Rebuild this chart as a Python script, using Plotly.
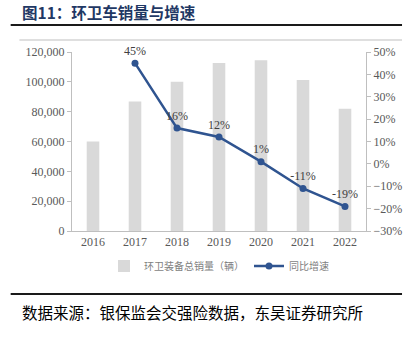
import plotly.graph_objects as go

years = ["2016", "2017", "2018", "2019", "2020", "2021", "2022"]
sales = [60000, 86800, 100000, 112600, 114400, 101200, 81900]
growth_years = ["2017", "2018", "2019", "2020", "2021", "2022"]
growth = [45, 16, 12, 1, -11, -19]
growth_labels = ["45%", "16%", "12%", "1%", "-11%", "-19%"]

W, H = 414, 338
L, R, T, B = 72, 40, 52, 107
pw = W - L - R
ph = H - T - B

def px(x):
    return (x - L) / pw

def py(y):
    return (H - B - y) / ph

serif = "Liberation Serif"
cjk = "Noto Sans CJK SC"

fig = go.Figure()
fig.add_trace(go.Bar(
    x=years, y=sales, name="环卫装备总销量（辆）",
    marker=dict(color="#D9D9D9", line=dict(width=0)),
    width=0.3, yaxis="y",
))
fig.add_trace(go.Scatter(
    x=growth_years, y=growth, name="同比增速", yaxis="y2",
    mode="lines+markers+text", cliponaxis=False,
    line=dict(color="#2F5490", width=2.5),
    marker=dict(color="#2F5490", size=7),
    text=growth_labels, textposition="top center",
    textfont=dict(family=serif, size=12, color="#404040"),
))

fig.update_layout(
    width=W, height=H,
    margin=dict(l=L, r=R, t=T, b=B, pad=0),
    paper_bgcolor="white", plot_bgcolor="white",
    showlegend=True,
    legend=dict(orientation="h", x=0.5, xanchor="center", y=py(266), yanchor="middle",
                font=dict(family=cjk, size=10, color="#7f7f7f"),
                bgcolor="rgba(0,0,0,0)", itemwidth=30, tracegroupgap=0),
    bargap=0.7,
    xaxis=dict(type="category", showline=True, linecolor="#BFBFBF", linewidth=1,
               ticks="", showgrid=False,
               tickfont=dict(family=serif, size=12, color="#595959")),
    yaxis=dict(range=[0, 120000], dtick=20000, tickformat=",", showgrid=False,
               zeroline=False, showline=True, linecolor="#BFBFBF", linewidth=1,
               ticks="outside", ticklen=4, tickcolor="#BFBFBF",
               tickfont=dict(family=serif, size=12, color="#595959")),
    yaxis2=dict(range=[-30, 50], dtick=10, ticksuffix="%", overlaying="y", side="right",
                showgrid=False, zeroline=False, showline=True, linecolor="#BFBFBF",
                linewidth=1, ticks="outside", ticklen=4, tickcolor="#BFBFBF",
                tickfont=dict(family=serif, size=12, color="#595959")),
)

fig.add_shape(type="line", xref="paper", yref="paper", x0=px(9), x1=px(411), y0=py(25), y1=py(25),
              line=dict(color="#1a1a1a", width=2))
fig.add_shape(type="line", xref="paper", yref="paper", x0=px(18), x1=px(411), y0=py(40), y1=py(40),
              line=dict(color="#BFBFBF", width=1))
fig.add_shape(type="line", xref="paper", yref="paper", x0=px(9), x1=px(411), y0=py(294), y1=py(294),
              line=dict(color="#1a1a1a", width=2))

fig.add_annotation(xref="paper", yref="paper", x=px(19), y=py(12), xanchor="left", yanchor="middle",
                   text="<b>图11：环卫车销量与增速</b>", showarrow=False,
                   font=dict(family=cjk, size=15.5, color="#1F3864"))
fig.add_annotation(xref="paper", yref="paper", x=px(19), y=py(312), xanchor="left", yanchor="middle",
                   text="数据来源：银保监会交强险数据，东吴证券研究所", showarrow=False,
                   font=dict(family=cjk, size=15.5, color="#000000"))

fig.write_html("out.html")
